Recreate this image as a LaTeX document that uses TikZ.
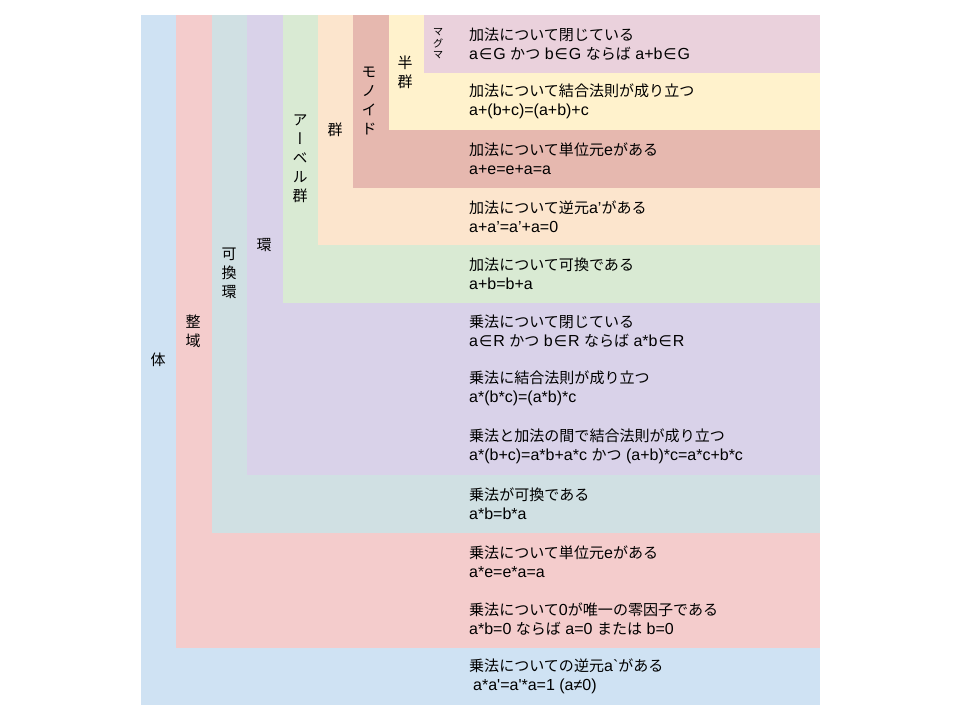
\documentclass[tikz,border=0pt]{standalone}
\usepackage{fontspec}
\setmainfont{Liberation Sans}
\newfontfamily\jp{Noto Sans CJK JP}[Scale=0.94]
\newfontfamily\jpv{Noto Sans CJK JP}[RawFeature=+vert]
\newfontfamily\symf{DejaVu Sans}[Scale=0.95]
\newcommand{\elem}{\kern1pt{\symf ∈}\kern1pt}
\definecolor{cTai}{HTML}{CFE2F3}
\definecolor{cSeiiki}{HTML}{F4CCCC}
\definecolor{cKakan}{HTML}{D0E0E3}
\definecolor{cKan}{HTML}{D9D2E9}
\definecolor{cAbel}{HTML}{D9EAD3}
\definecolor{cGun}{HTML}{FCE5CD}
\definecolor{cMono}{HTML}{E6B8AF}
\definecolor{cHan}{HTML}{FFF2CC}
\definecolor{cMagma}{HTML}{EAD1DC}
\begin{document}
\begin{tikzpicture}[x=1pt,y=-1pt,
  txt/.style={anchor=west, inner sep=0pt, align=left, font=\fontsize{16}{19}\selectfont},
  vlab/.style={inner sep=0pt, align=center, font=\jpv\fontsize{15}{19}\selectfont},
  vsmall/.style={inner sep=0pt, align=center, font=\jpv\fontsize{10.5}{11.7}\selectfont}]
\useasboundingbox (0,0) rectangle (960,720);
% nested bands
\fill[cTai]    (141,15) rectangle (820,705);
\fill[cSeiiki] (176,15) rectangle (820,647.5);
\fill[cKakan]  (211.5,15) rectangle (820,532.5);
\fill[cKan]    (247,15) rectangle (820,475);
\fill[cAbel]   (283,15) rectangle (820,302.5);
\fill[cGun]    (318,15) rectangle (820,245);
\fill[cMono]   (353,15) rectangle (820,187.5);
\fill[cHan]    (389,15) rectangle (820,130);
\fill[cMagma]  (424,15) rectangle (820,72.5);
% vertical labels
\node[vsmall] (lMagma) at (438,43.75) {マ\\グ\\マ};
\node[vlab] (lHan) at (405,72.5) {半\\群};
\node[vlab] (lMono) at (369,100.5) {モ\\ノ\\イ\\ド};
\node[vlab] (lGun) at (335,130) {群};
\node[vlab] (lAbel) at (300,158.75) {ア\\ー\\ベ\\ル\\群};
\node[vlab] (lKan) at (264,245) {環};
\node[vlab] (lKakan) at (229,273.75) {可\\換\\環};
\node[vlab] (lSeiiki) at (193,331.25) {整\\域};
\node[vlab] (lTai) at (158,360) {体};
% property texts
\node[txt] (t1) at (469,43.75) {{\jp 加法について閉じている}\\a\elem G {\jp かつ} b\elem G {\jp ならば} a+b\elem G};
\node[txt] (t2) at (469,101.25) {{\jp 加法について結合法則が成り立つ}\\a+(b+c)=(a+b)+c};
\node[txt] (t3) at (469,158.75) {{\jp 加法について単位元}e{\jp がある}\\a+e=e+a=a};
\node[txt] (t4) at (469,216.25) {{\jp 加法について逆元}a’{\jp がある}\\a+a’=a’+a=0};
\node[txt] (t5) at (469,273.75) {{\jp 加法について可換である}\\a+b=b+a};
\node[txt] (t6) at (469,331.25) {{\jp 乗法について閉じている}\\a\elem R {\jp かつ} b\elem R {\jp ならば} a*b\elem R};
\node[txt] (t7) at (469,388.75) {{\jp 乗法に結合法則が成り立つ}\\a*(b*c)=(a*b)*c};
\node[txt] (t8) at (469,446.25) {{\jp 乗法と加法の間で結合法則が成り立つ}\\a*(b+c)=a*b+a*c {\jp かつ} (a+b)*c=a*c+b*c};
\node[txt] (t9) at (469,503.75) {{\jp 乗法が可換である}\\a*b=b*a};
\node[txt] (t10) at (469,561.25) {{\jp 乗法について単位元}e{\jp がある}\\a*e=e*a=a};
\node[txt] (t11) at (469,618.75) {{\jp 乗法について}0{\jp が唯一の零因子である}\\a*b=0 {\jp ならば} a=0 {\jp または} b=0};
\node[txt] (t12) at (469,676.25) {{\jp 乗法についての逆元}a\textasciigrave{\jp がある}\\\hspace*{4pt}a*a\textquotesingle=a\textquotesingle*a=1 (a≠0)};
\end{tikzpicture}
\end{document}
